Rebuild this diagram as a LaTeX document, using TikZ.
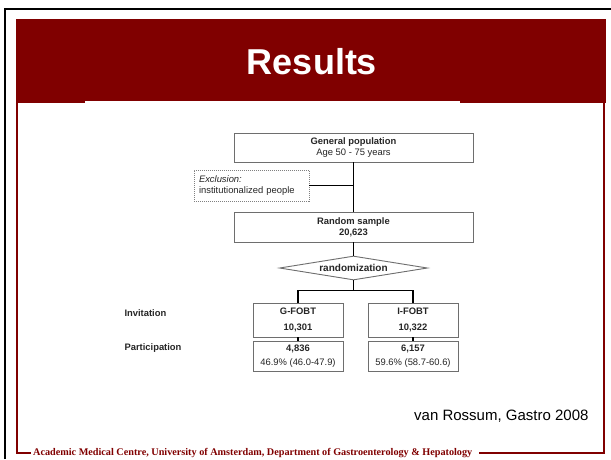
\documentclass[tikz,border=0pt]{standalone}
\usepackage{fontspec}
\setmainfont{Liberation Serif}
\setsansfont{Liberation Sans}
\usetikzlibrary{positioning,shapes.geometric}
\definecolor{amcred}{HTML}{800000}
\definecolor{boxgray}{HTML}{6E6E6E}
\begin{document}
\begin{tikzpicture}[x=1pt,y=-1pt,
  box/.style={draw=boxgray,line width=0.9pt,inner sep=0pt,align=center,text=black!85,
    font=\sffamily\fontsize{9.4}{11}\selectfont},
  link/.style={line width=1.8pt,black},
  rowlabel/.style={anchor=west,font=\sffamily\bfseries\fontsize{9.4}{11}\selectfont,text=black!85}]
\useasboundingbox (0,0) rectangle (611,459);
% slide
\draw[line width=2pt](5,459)--(5,9)--(611,9);
\fill[amcred](16,19)rectangle(606,103);
\fill[white](85,101)rectangle(460,385);
\node[text=white,font=\sffamily\bfseries\fontsize{36}{40}\selectfont](title) at (312,62){Results};
\node[anchor=west,inner sep=2pt,text=amcred,font=\rmfamily\bfseries\fontsize{10.2}{11}\selectfont](foot) at (31,453)
  {Academic Medical Centre, University of Amsterdam, Department of Gastroenterology \& Hepatology};
\draw[amcred,line width=1.5pt](foot.west)--(17,453)--(17,103);
\draw[amcred,line width=1.5pt]([xshift=5pt]foot.east)--(604,453)--(604,103);
\node[anchor=east,font=\sffamily\fontsize{15}{18}\selectfont](cite) at (592,416){van Rossum, Gastro 2008};
%
\node[box,minimum width=239,minimum height=29](gen) at (353.5,147.5){\textbf{General population}\\Age 50 - 75 years};
\node[box,draw=gray,line width=0.6pt,dash pattern=on 1pt off 1pt,minimum height=31,text width=105,inner xsep=5pt,align=left](excl) at (251.5,185.5)
  {\textit{Exclusion:}\\institutionalized people};
\node[box,minimum width=239,minimum height=30](rs) at (353.5,227){\textbf{Random sample}\\\textbf{20,623}};
\node[diamond,box,aspect=6,minimum width=148,minimum height=24,font=\sffamily\bfseries\fontsize{10}{12}\selectfont](rand) at (353.5,268){randomization};
\node[box,minimum width=90,minimum height=34](gfobt) at (298,320){\textbf{G-FOBT}\\[5pt]\textbf{10,301}};
\node[box,minimum width=90,minimum height=34](ifobt) at (413,320){\textbf{I-FOBT}\\[5pt]\textbf{10,322}};
\node[box,minimum width=90,minimum height=30](gpart) at (298,356){\textbf{4,836}\\[3pt]46.9\% (46.0-47.9)};
\node[box,minimum width=90,minimum height=30](ipart) at (413,356){\textbf{6,157}\\[3pt]59.6\% (58.7-60.6)};
\node[rowlabel](inv) at (121,313){Invitation};
\node[rowlabel](part) at (121,348){Participation};
%
\draw[link](gen)--(rs);
\draw[link](excl.east)--(excl.east-|gen.south);
\draw[link](rs)--(rand);
\draw[link](rand.south)--++(0,10)coordinate(split);
\draw[link](gfobt.north)|-(split)-|(ifobt.north);
\draw[link](gfobt)--(gpart);
\draw[link](ifobt)--(ipart);
\end{tikzpicture}
\end{document}
